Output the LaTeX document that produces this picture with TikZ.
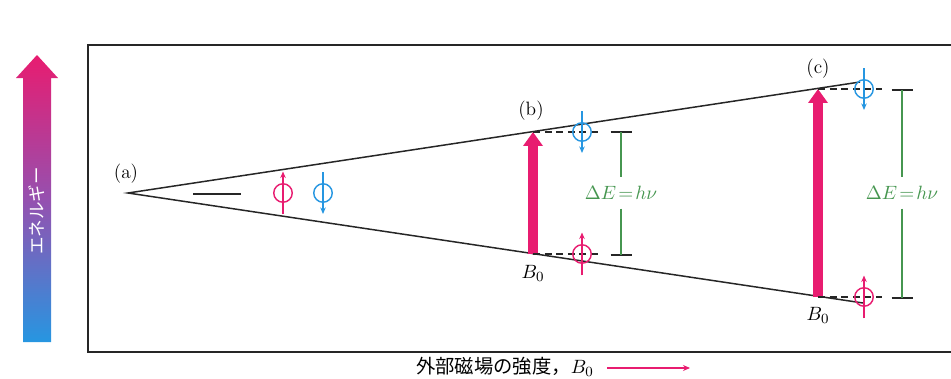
\documentclass[tikz,border=0pt]{standalone}
\usepackage{fontspec}
\newfontfamily\jpfont{Noto Sans CJK JP}
\usetikzlibrary{arrows.meta, calc}

\definecolor{nmrpink}{RGB}{232,28,112}
\definecolor{nmrblue}{RGB}{38,150,225}
\definecolor{nmrpurple}{RGB}{150,80,175}
\definecolor{nmrgreen}{RGB}{70,150,80}

\begin{document}
\begin{tikzpicture}[
    x=0.02cm, y=-0.02cm,
    every node/.style={font=\fontsize{11}{13}\selectfont},
    frame/.style={line width=1.1pt, black!85},
    level/.style={line width=0.85pt, black!85},
    spin/.style={circle, draw, line width=0.8pt, minimum size=0.37cm, inner sep=0pt},
    spinline/.style={line width=0.8pt},
    spintip/.style={-{Stealth[length=1.3mm, width=1.1mm]}},
    dashlevel/.style={line width=0.8pt, black!85, dash pattern=on 4pt off 2.6pt},
    tickmark/.style={line width=0.8pt, black!85},
    dim/.style={line width=0.8pt, nmrgreen},
    dimlabel/.style={text=nmrgreen, inner xsep=0pt, inner ysep=0.17cm, font=\fontsize{11}{13}\selectfont},
    bigarrow/.style={nmrpink, line width=0.2cm, -{Triangle[length=0.28cm, width=0.38cm]}},
    axarrow/.style={nmrpink, line width=0.6pt, -{Stealth[length=1.4mm, width=1.2mm]}}
]
\useasboundingbox (0,0) rectangle (951,379);

% Energy arrow
\shade[top color=nmrpink, bottom color=nmrblue, middle color=nmrpurple]
    (23,342) -- (23,78) -- (16,78) -- (37,55) -- (58,78) -- (51,78) -- (51,342) -- cycle;
\node[rotate=90, text=white, font=\jpfont\fontsize{10}{12}\selectfont] (energy) at (37,211) {エネルギー};

% Frame
\draw[frame] (951,45) -- (88,45) -- (88,352) -- (951,352);

% Level lines
\coordinate (a) at (128,193);
\coordinate (up) at (860,82);
\coordinate (lo) at (863,303);
\coordinate (bU) at (533,132);
\coordinate (bL) at (533,254);
\coordinate (cU) at (818,89);
\coordinate (cL) at (818,297);
\draw[level] (up) -- (a) -- (lo);
\draw[level] (193,194) -- (241,194);

% Labels
\node[anchor=south] (la) at (126,190) {(a)};
\node[anchor=south] (lb) at (531,127) {(b)};
\node[anchor=south] (lc) at (818,85) {(c)};
\node[anchor=north] (b0b) at (533,259) {$B_0$};
\node[anchor=north] (b0c) at (818,301) {$B_0$};

% Transition arrows
\draw[bigarrow] (bL) -- (bU);
\draw[bigarrow] (cL) -- (cU);

% Dashed levels
\coordinate (bUe) at (600,132);
\coordinate (bLe) at (600,254);
\coordinate (cUe) at (882,89);
\coordinate (cLe) at (882,297);
\draw[dashlevel] (bU) -- (bUe);
\draw[dashlevel] (bL) -- (bLe);
\draw[dashlevel] (cU) -- (cUe);
\draw[dashlevel] (cL) -- (cLe);

% Spins (pink = up, blue = down)
\foreach \n/\x/\y in {sa/283/193, sb/582/254, sc/864/297} {
    \node[spin, draw=nmrpink] (\n) at (\x,\y) {};
    \draw[spinline, spintip, nmrpink] ([yshift=-0.43cm]\n.center) -- ([yshift=0.43cm]\n.center);
}
\foreach \n/\x/\y in {ta/323/193, tb/582/132, tc/864/89} {
    \node[spin, draw=nmrblue] (\n) at (\x,\y) {};
    \draw[spinline, spintip, nmrblue] ([yshift=0.42cm]\n.center) -- ([yshift=-0.42cm]\n.center);
}

% Energy gaps
\coordinate (bT) at (621,132);
\coordinate (bB) at (621,255);
\coordinate (cT) at (902,90);
\coordinate (cB) at (902,298);
\node[dimlabel] (eb) at (621,193) {$\Delta E\mskip2mu{=}\mskip2mu h\nu$};
\node[dimlabel] (ec) at (902,193) {$\Delta E\mskip2mu{=}\mskip2mu h\nu$};
\foreach \t in {bT, bB, cT, cB} {
    \draw[tickmark] ([xshift=-0.21cm]\t) -- ([xshift=0.21cm]\t);
}
\draw[dim] (bT) -- (eb.north);
\draw[dim] (eb.south) -- (bB);
\draw[dim] (cT) -- (ec.north);
\draw[dim] (ec.south) -- (cB);

% Field axis
\node[font=\jpfont\fontsize{11}{13}\selectfont] (axis) at (505,367) {外部磁場の強度，$B_0$};
\coordinate (axS) at (607,368);
\coordinate (axE) at (690,368);
\draw[axarrow] (axS) -- (axE);

\end{tikzpicture}
\end{document}
